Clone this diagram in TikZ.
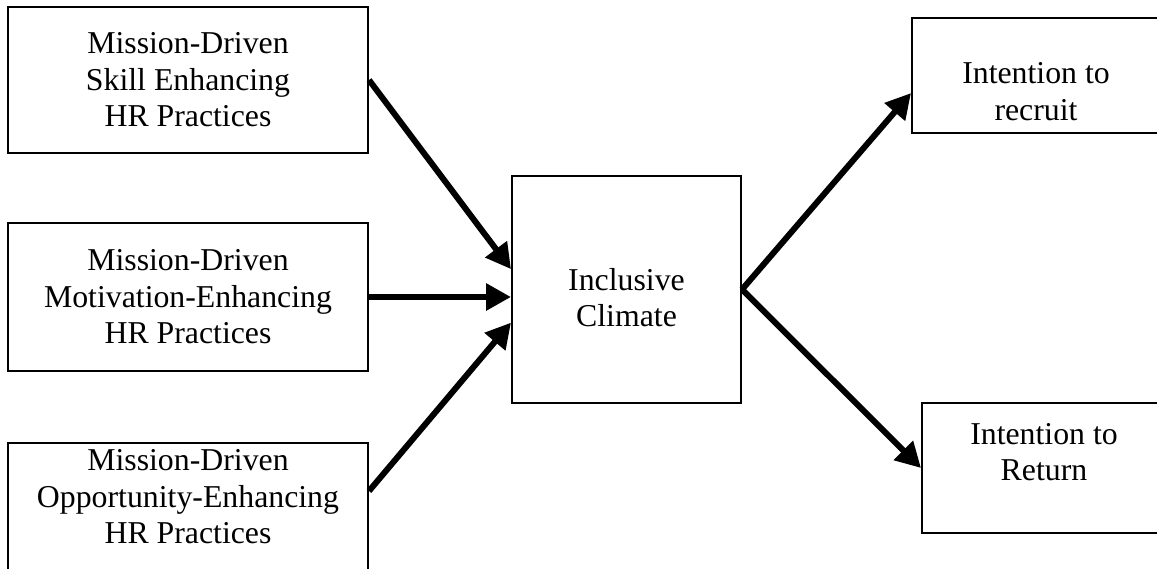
\documentclass[tikz,border=0pt]{standalone}
\usepackage{fontspec}
\setmainfont{Liberation Serif}
\usetikzlibrary{arrows.meta}

\begin{document}
\begin{tikzpicture}[x=0.5pt,y=-0.5pt,
  boxtext/.style={align=center,font=\fontsize{15.9}{18.3}\selectfont},
  box/.style={draw,rectangle,line width=1pt,inner sep=0pt,boxtext},
  link/.style={-{Triangle[length=12.5pt,width=13pt]},line width=3pt}]

\useasboundingbox (0,0) rectangle (1157,568);
\clip (0,0) rectangle (1157,568);

\node [box, minimum width=180pt, minimum height=73pt] (skill) at (188,80)
  {Mission-Driven\\Skill Enhancing\\HR Practices};
\node [box, minimum width=180pt, minimum height=74pt] (motiv) at (188,297)
  {Mission-Driven\\Motivation-Enhancing\\HR Practices};
\node [box, minimum width=180pt, minimum height=74pt,
       label={[boxtext,yshift=10pt]center:{Mission-Driven\\Opportunity-Enhancing\\HR Practices}}]
  (oppty) at (188,517) {};

\node [box, minimum width=114.5pt, minimum height=113.5pt,
       label={[boxtext,yshift=-4pt]center:{Inclusive\\Climate}}]
  (climate) at (626.5,289.5) {};

\node [box, minimum width=124pt, minimum height=57.5pt,
       label={[boxtext,yshift=-8pt]center:{Intention to\\recruit}}]
  (recruit) at (1036,75.5) {};
\node [box, minimum width=122pt, minimum height=65pt,
       label={[boxtext,yshift=8pt]center:{Intention to\\Return}}]
  (return) at (1044,468) {};

\draw [link] (skill.east) -- (climate.170);
\draw [link] (motiv.east) -- (motiv.east -| climate.west);
\draw [link] ([yshift=13pt]oppty.east) -- (climate.196);
\draw [link] (climate.east) -- (recruit.188);
\draw [link] (climate.east) -- (return.west);

\end{tikzpicture}
\end{document}
